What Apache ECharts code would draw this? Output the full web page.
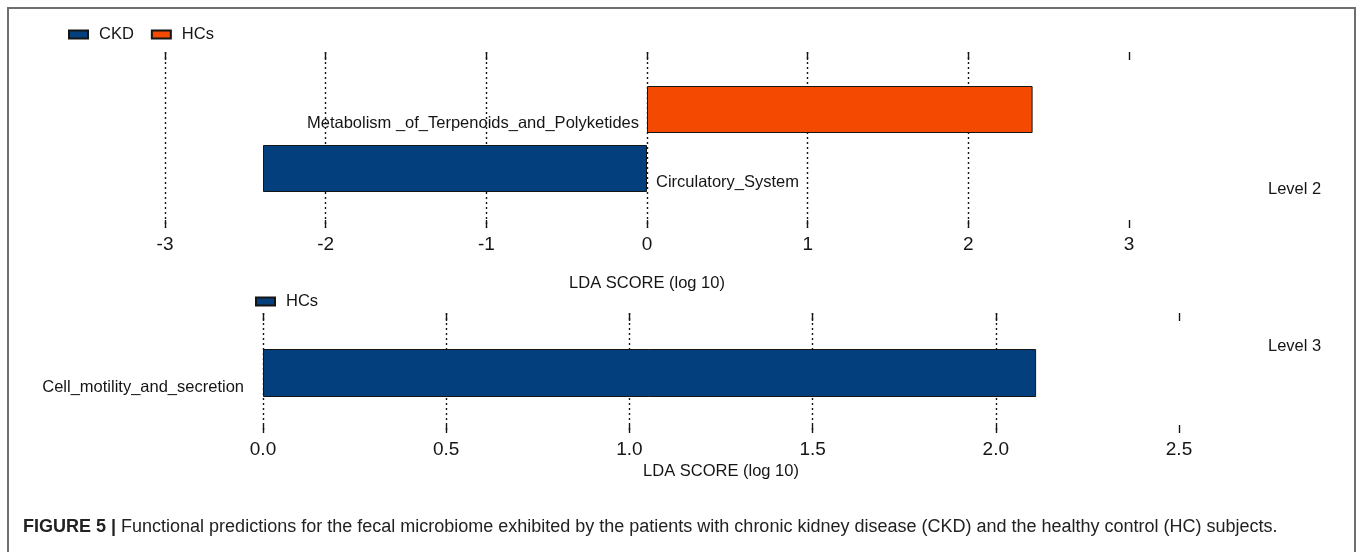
<!DOCTYPE html>
<html>
<head>
<meta charset="utf-8">
<title>LDA scores – CKD vs HCs</title>
<script src="https://cdn.jsdelivr.net/npm/echarts@6/dist/echarts.min.js"></script>
<style>
  html, body { margin: 0; padding: 0; background: #ffffff; }
  #chart { width: 1358px; height: 552px; }
</style>
</head>
<body>
<div id="chart"></div>
<script>
// ---- Level 2 pathways ----
const level2Features = ['Metabolism _of_Terpenoids_and_Polyketides', 'Circulatory_System'];
const level2CKD = ['-', -2.39];   // enriched in CKD (drawn to the left)
const level2HCs = [2.40, '-'];    // enriched in HCs (drawn to the right)
const level2Ticks = [-3, -2, -1, 0, 1, 2, 3];

// ---- Level 3 pathways ----
const level3Features = ['Cell_motility_and_secretion'];
const level3HCs = [2.11];
const level3Ticks = [0, 0.5, 1.0, 1.5, 2.0, 2.5];

const levelNames = ['Level 2', 'Level 3'];
const axisTitle = 'LDA SCORE (log 10)';
const captionLead = 'FIGURE 5 |';
const captionBody = 'Functional predictions for the fecal microbiome exhibited by the patients with chronic kidney disease (CKD) and the healthy control (HC) subjects.';

const BLUE = '#033f7d';
const ORANGE = '#f34900';
const INK = '#151515';
const FONT = '"Liberation Sans", Arial, Helvetica, sans-serif';
const FS = 16.5;      // names, titles, legend
const TICK_FS = 19;   // numeric tick labels

const chart = echarts.init(document.getElementById('chart'), null, { renderer: 'canvas' });

function frameAxes(ticks, gridIndex, fmt, nameGap) {
  const lo = ticks[0], hi = ticks[ticks.length - 1], step = ticks[1] - ticks[0];
  const tick = { show: true, inside: true, length: 8, lineStyle: { color: INK, width: 1.4 } };
  return [
    {
      type: 'value', gridIndex, position: 'bottom', min: lo, max: hi, interval: step,
      axisLine: { show: false }, axisTick: tick,
      axisLabel: { show: true, margin: 7, fontFamily: FONT, fontSize: TICK_FS, color: INK, formatter: fmt },
      splitLine: { show: true, showMaxLine: false, lineStyle: { color: INK, width: 1.4, type: [2, 3] } },
      name: axisTitle, nameLocation: 'middle', nameGap,
      nameTextStyle: { fontFamily: FONT, fontSize: FS, color: INK }
    },
    {
      type: 'value', gridIndex, position: 'top', min: lo, max: hi, interval: step,
      axisLine: { show: false }, axisTick: tick, axisLabel: { show: false }, splitLine: { show: false }
    }
  ];
}

function barAxis(ticks, gridIndex) {
  return { type: 'value', gridIndex, show: false, min: ticks[0], max: ticks[ticks.length - 1] };
}

const labelBase = { show: true, formatter: '{b}', fontFamily: FONT, fontSize: FS, color: INK, offset: [0, 14] };
const barItem = (color) => ({ color, borderColor: INK, borderWidth: 1 });
const legendText = { fontFamily: FONT, fontSize: FS, color: INK, padding: [0, 0, 0, 6] };

const option = {
  animation: false,
  backgroundColor: '#ffffff',
  grid: [
    { left: 165, width: 964, top: 52, height: 176 },
    { left: 165, width: 964, top: 80, height: 118 },
    { left: 263, width: 916, top: 313, height: 120 },
    { left: 263, width: 916, top: 343, height: 60 }
  ],
  xAxis: [
    ...frameAxes(level2Ticks, 0, (v) => String(v), 47),
    barAxis(level2Ticks, 1),
    ...frameAxes(level3Ticks, 2, (v) => v.toFixed(1), 30),
    barAxis(level3Ticks, 3)
  ],
  yAxis: [
    { type: 'value', gridIndex: 0, show: false, min: 0, max: 1 },
    { type: 'category', gridIndex: 1, show: false, inverse: true, data: level2Features },
    { type: 'value', gridIndex: 2, show: false, min: 0, max: 1 },
    { type: 'category', gridIndex: 3, show: false, inverse: true, data: level3Features }
  ],
  legend: [
    {
      data: ['CKD', 'HCs'], left: 68, top: 26, padding: 0, icon: 'rect',
      itemWidth: 19, itemHeight: 8, itemGap: 17, selectedMode: false,
      textStyle: legendText
    },
    {
      data: [{ name: 'HCs', itemStyle: { color: BLUE } }], left: 255, top: 293, padding: 0, icon: 'rect',
      itemWidth: 19, itemHeight: 8, selectedMode: false,
      textStyle: legendText
    }
  ],
  series: [
    {
      name: 'HCs', type: 'bar', xAxisIndex: 2, yAxisIndex: 1, barWidth: 47, barGap: '-100%',
      data: level2HCs, itemStyle: barItem(ORANGE),
      label: Object.assign({}, labelBase, { position: 'left', distance: 8 })
    },
    {
      name: 'CKD', type: 'bar', xAxisIndex: 2, yAxisIndex: 1, barWidth: 47, barGap: '-100%',
      data: level2CKD, itemStyle: barItem(BLUE),
      label: Object.assign({}, labelBase, { position: 'right', distance: 9 })
    },
    {
      name: 'HCs', type: 'bar', xAxisIndex: 5, yAxisIndex: 3, barWidth: 48,
      data: level3HCs, itemStyle: barItem(BLUE),
      label: Object.assign({}, labelBase, { position: 'left', distance: 19 })
    }
  ],
  graphic: [
    // figure frame
    {
      type: 'rect', silent: true, z: -1,
      shape: { x: 8, y: 8, width: 1347, height: 580 },
      style: { fill: 'none', stroke: '#6e6e6e', lineWidth: 2 }
    },
    {
      type: 'text', left: 1268, top: 181,
      style: { text: levelNames[0], font: FS + 'px ' + FONT, fill: INK }
    },
    {
      type: 'text', left: 1268, top: 338,
      style: { text: levelNames[1], font: FS + 'px ' + FONT, fill: INK }
    },
    {
      type: 'text', left: 23, top: 518,
      style: {
        text: '{b|' + captionLead + '} ' + captionBody,
        font: '18px ' + FONT, fill: '#222',
        rich: { b: { fontWeight: 'bold', fontSize: 18, fontFamily: FONT, fill: '#222' } }
      }
    }
  ]
};

chart.setOption(option);
</script>
</body>
</html>
